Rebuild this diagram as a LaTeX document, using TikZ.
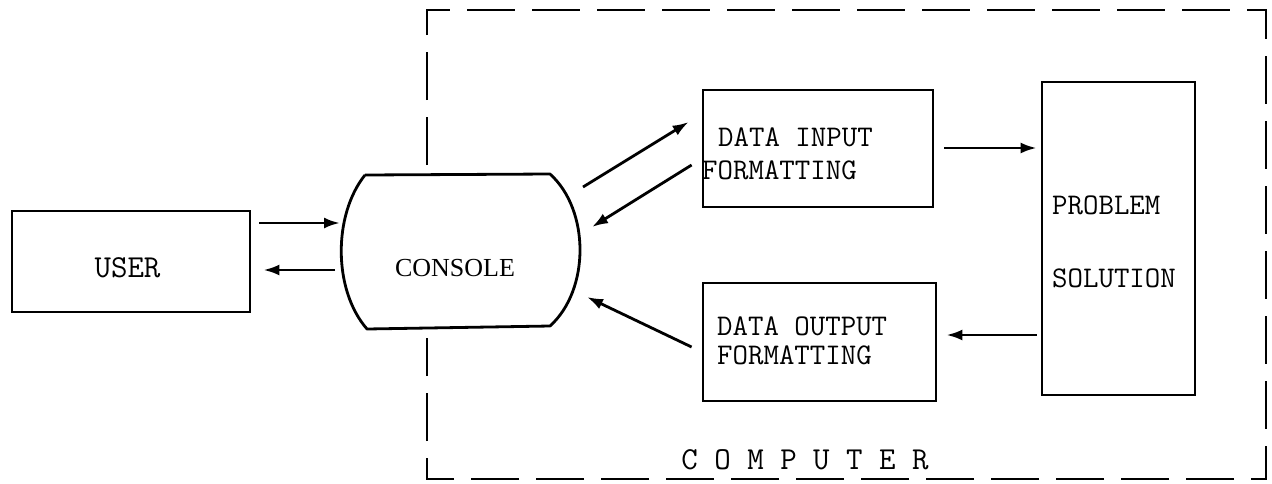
\documentclass[tikz,border=0pt]{standalone}
\usepackage{fontspec}
\setmainfont{Liberation Serif}
\usetikzlibrary{arrows.meta,calc}
\begin{document}
\begin{tikzpicture}[x=1pt,y=-1pt,
  box/.style={draw,line width=2.8pt,inner sep=0pt},
  lbl/.style={font=\ttfamily\fontsize{30}{36}\selectfont,inner sep=0pt,anchor=west},
  arr/.style={line width=2.8pt,-{Latex[length=16pt,width=11pt]}},
  frameline/.style={line width=2.8pt,dash pattern=on 48pt off 17pt},
  conshape/.style={line width=2.8pt,line join=round}]
\useasboundingbox (0,0) rectangle (1272,483);

% computer frame
\draw[frameline] (427,165) -- (427,10) -- (1266,10) -- (1266,479) -- (427,479) -- (427,338);
\node[font=\ttfamily\fontsize{32}{36}\selectfont,inner sep=0pt] (comp) at (805,460) {C O M P U T E R};

% user
\node[box,minimum width=238pt,minimum height=101pt] (user) at (131,261.5) {};
\node[font=\ttfamily\fontsize{32}{36}\selectfont,inner sep=0pt] (userlbl) at (127.5,268) {USER};

% console
\draw[conshape] (365,175) -- (550,174) .. controls (590,210) and (590,290) .. (550,326)
  -- (367,329) .. controls (333,290) and (333,215) .. (365,175);
\node[font=\fontsize{26}{30}\selectfont,inner sep=0pt] (con) at (455,268) {CONSOLE};

% data input formatting
\node[box,minimum width=230pt,minimum height=117pt] (input) at (818,148.5) {};
\node[lbl] (inp1) at (718,137) {DATA INPUT};
\node[lbl] (inp2) at (702,170) {FORMATTING};

% data output formatting
\node[box,minimum width=233pt,minimum height=118pt] (output) at (819.5,342) {};
\node[lbl] (out1) at (717,326) {DATA OUTPUT};
\node[lbl] (out2) at (717,355) {FORMATTING};

% problem solution
\node[box,minimum width=153pt,minimum height=313pt] (problem) at (1118.5,238.5) {};
\node[lbl] (prob1) at (1052,205) {PROBLEM};
\node[lbl] (prob2) at (1052,278) {SOLUTION};

% connectors
\draw[arr] ($(user.east)+(8,-38.5)$) -- ($(con)+(-115,-45)$);
\draw[arr] ($(con)+(-120,2)$) -- ($(user.east)+(12,8.5)$);
\draw[arr] ($(con)+(128,-81)$) -- ($(input.west)+(-13,-26.5)$);
\draw[arr] ($(input.west)+(-10,16.5)$) -- ($(con)+(137,-41)$);
\draw[arr] ($(output.west)+(-10,5)$) -- ($(con)+(132,29)$);
\draw[arr] ($(input.east)+(10,-0.5)$) -- ($(problem.west)+(-4,-90.5)$);
\draw[arr] ($(problem.west)+(-4,96.5)$) -- ($(output.east)+(9,-7)$);
\end{tikzpicture}
\end{document}
